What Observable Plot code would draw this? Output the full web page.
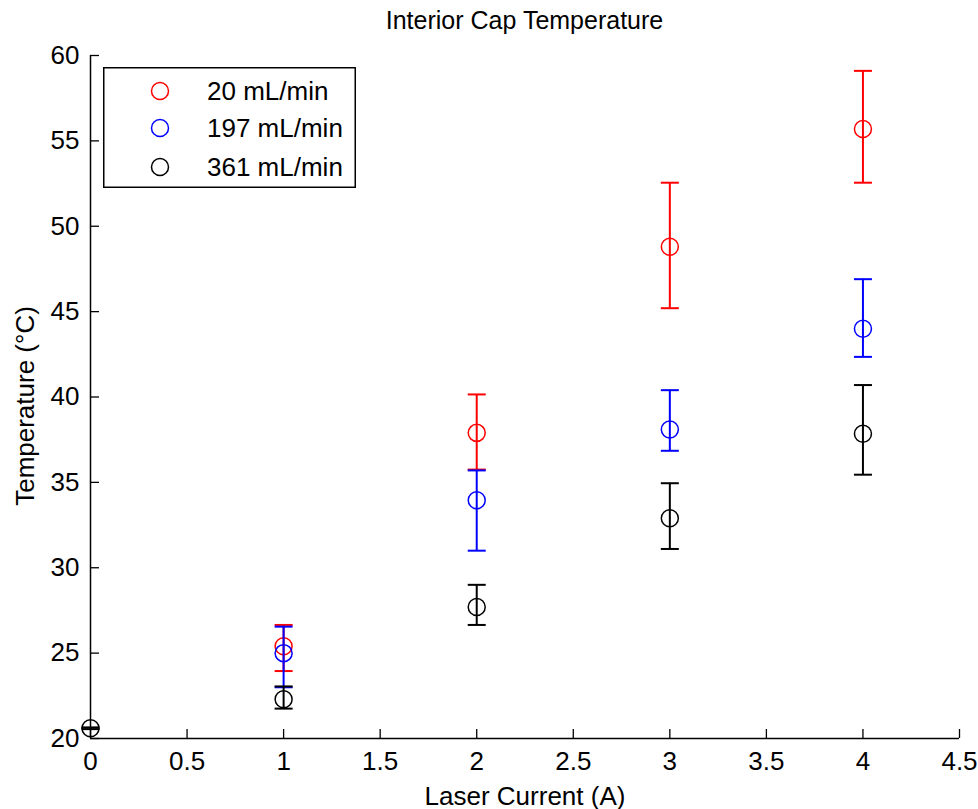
<!DOCTYPE html>
<html><head><meta charset="utf-8">
<script src="https://cdn.jsdelivr.net/npm/d3@7"></script>
<script src="https://cdn.jsdelivr.net/npm/@observablehq/plot@0.6"></script>
<style>
body{margin:0;background:#fff;font-family:"Liberation Sans",Arial,sans-serif;}
#wrap{position:relative;width:978px;height:809px;background:#fff;}
#title{height:40px;box-sizing:border-box;padding:3px 19px 0 90px;font-size:25px;line-height:34px;text-align:center;color:#000;white-space:nowrap;}
#legend{position:absolute;left:103px;top:67px;}
</style></head><body>
<div id="wrap">
  <div id="title">Interior Cap Temperature</div>
  <div id="chart"></div>
  <div id="legend"></div>
</div>
<script>
// ---- data ----
const seriesNames = ["20 mL/min", "197 mL/min", "361 mL/min"];
const seriesColors = ["#ff0000", "#0000ff", "#000000"];

const current20 = [1, 2, 3, 4];
const mean20 = [25.4, 37.9, 48.8, 55.7];
const low20 = [23.95, 35.75, 45.2, 52.55];
const high20 = [26.65, 40.15, 52.55, 59.1];

const current197 = [1, 2, 3, 4];
const mean197 = [25.0, 33.95, 38.1, 44.0];
const low197 = [23.0, 31.0, 36.85, 42.35];
const high197 = [26.55, 35.7, 40.4, 46.9];

const current361 = [0, 1, 2, 3, 4];
const mean361 = [20.6, 22.3, 27.7, 32.9, 37.85];
const low361 = [20.55, 21.75, 26.65, 31.1, 35.45];
const high361 = [20.65, 23.05, 29.0, 34.95, 40.7];

const xTicks = [0, 0.5, 1, 1.5, 2, 2.5, 3, 3.5, 4, 4.5];
const yTicks = [20, 25, 30, 35, 40, 45, 50, 55, 60];

const xLabel = "Laser Current (A)";
const yLabel = "Temperature (°C)";

// ---- build rows ----
function rows(xs, m, lo, hi) {
  return xs.map((x, i) => ({x, mean: m[i], low: lo[i], high: hi[i]}));
}
const allSeries = [
  rows(current20, mean20, low20, high20),
  rows(current197, mean197, low197, high197),
  rows(current361, mean361, low361, high361)
];

const W = 978, H = 769, ML = 90, MR = 19, MT = 15, MB = 71;
const plotW = W - ML - MR, plotH = H - MT - MB;
const tickLen = 9;

const capSymbol = {
  draw(ctx, size) {
    const w = Math.sqrt(size / Math.PI);
    ctx.moveTo(-w, 0);
    ctx.lineTo(w, 0);
  }
};

const seriesMarks = allSeries.flatMap((data, s) => [
  Plot.ruleX(data, {x: "x", y1: "low", y2: "high", stroke: seriesColors[s], strokeWidth: 2}),
  Plot.dot(data, {x: "x", y: "low", symbol: capSymbol, r: 9, fill: "none", stroke: seriesColors[s], strokeWidth: 2}),
  Plot.dot(data, {x: "x", y: "high", symbol: capSymbol, r: 9, fill: "none", stroke: seriesColors[s], strokeWidth: 2}),
  Plot.dot(data, {x: "x", y: "mean", r: 8.5, fill: "none", stroke: seriesColors[s], strokeWidth: 1.5})
]);

const chart = Plot.plot({
  width: W, height: H,
  marginLeft: ML, marginRight: MR, marginTop: MT, marginBottom: MB,
  x: {domain: [0, 4.5]},
  y: {domain: [20, 60]},
  style: {fontFamily: '"Liberation Sans", Arial, sans-serif', fontSize: "26px", color: "#000", background: "#fff", overflow: "visible"},
  marks: [
    Plot.axisX(xTicks, {tickSize: 0, tickPadding: 13, label: null, tickFormat: d => String(d), fontSize: 26}),
    Plot.axisY(yTicks, {tickSize: 0, tickPadding: 11, label: null, tickFormat: d => String(d), fontSize: 26}),
    Plot.ruleX(xTicks, {x: d => d, insetTop: plotH - tickLen, stroke: "#000", strokeWidth: 1.3}),
    Plot.ruleY(yTicks, {y: d => d, insetRight: plotW - tickLen, stroke: "#000", strokeWidth: 1.3}),
    Plot.ruleX([0], {stroke: "#000", strokeWidth: 1.5}),
    Plot.ruleY([20], {stroke: "#000", strokeWidth: 1.5}),
    ...seriesMarks,
    Plot.text([xLabel], {frameAnchor: "bottom", textAnchor: "middle", lineAnchor: "middle", dy: 58, fontSize: 26, text: d => d}),
    Plot.text([yLabel], {frameAnchor: "left", textAnchor: "middle", lineAnchor: "middle", rotate: -90, dx: -65, dy: 9, fontSize: 26, text: d => d})
  ]
});
document.getElementById("chart").appendChild(chart);

// ---- legend ----
const lw = 253, lh = 121;
const legendRowY = [24, 61, 100];
const leg = d3.select("#legend").append("svg").attr("width", lw).attr("height", lh)
  .style("font-family", '"Liberation Sans", Arial, sans-serif').style("font-size", "26px");
leg.append("rect").attr("x", 0.75).attr("y", 0.75).attr("width", lw - 1.5).attr("height", lh - 1.5)
  .attr("fill", "#fff").attr("stroke", "#000").attr("stroke-width", 1.5);
seriesNames.forEach((name, i) => {
  leg.append("circle").attr("cx", 57).attr("cy", legendRowY[i]).attr("r", 8.5)
    .attr("fill", "none").attr("stroke", seriesColors[i]).attr("stroke-width", 1.5);
  leg.append("text").attr("x", 104).attr("y", legendRowY[i] + 9).attr("fill", "#000").text(name);
});
</script>
</body></html>
